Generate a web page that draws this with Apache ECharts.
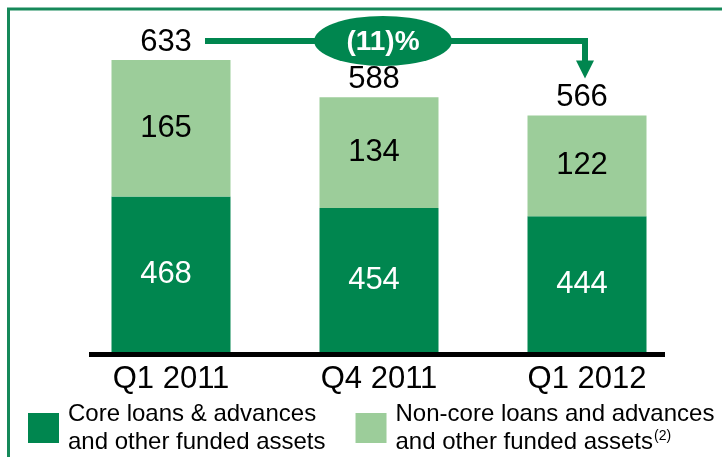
<!DOCTYPE html>
<html>
<head>
<meta charset="utf-8">
<script src="https://cdn.jsdelivr.net/npm/echarts@6/dist/echarts.min.js"></script>
<style>
html,body{margin:0;padding:0;background:#fff;}
#chart{width:722px;height:457px;}
</style>
</head>
<body>
<div id="chart"></div>
<script>
const categories = ['Q1 2011', 'Q4 2011', 'Q1 2012'];
const coreValues = [468, 454, 444];
const nonCoreValues = [165, 134, 122];
const coreName = 'Core loans & advances\nand other funded assets';
const nonCoreName = 'Non-core loans and advances\nand other funded assets{sup|(2)}';

const totals = coreValues.map((v, i) => v + nonCoreValues[i]);
const zeros = categories.map(() => 0);

const DARK = '#00864F';
const LIGHT = '#9CCD9A';
const FONT = 'Liberation Sans, Arial, sans-serif';
const AXIS_MIN = 280, AXIS_MAX = 639;

const chart = echarts.init(document.getElementById('chart'), null, {renderer: 'canvas'});

chart.setOption({
  animation: false,
  backgroundColor: '#fff',
  grid: {left: 67, right: 31, top: 55, bottom: 105, containLabel: false},
  xAxis: {
    type: 'category',
    data: categories,
    axisLine: {show: false},
    axisTick: {show: false},
    axisLabel: {fontSize: 31, color: '#000', fontFamily: FONT, margin: 12}
  },
  yAxis: {
    type: 'value', min: AXIS_MIN, max: AXIS_MAX, show: false,
    splitLine: {show: false}
  },
  legend: {
    left: 28, top: 400, padding: 0,
    itemWidth: 31, itemHeight: 30, itemGap: 30,
    icon: 'rect',
    data: ['core', 'noncore'],
    formatter: n => n === 'core' ? coreName : nonCoreName,
    textStyle: {
      fontSize: 24, lineHeight: 28, color: '#000', fontFamily: FONT,
      padding: [0, 0, 0, 4],
      rich: {
        sup: {fontSize: 14, lineHeight: 14, verticalAlign: 'top', color: '#000', fontFamily: FONT, padding: [1, 0, 0, 1]}
      }
    }
  },
  series: [
    {
      name: 'core', type: 'bar', stack: 'a', data: coreValues, barWidth: 119,
      itemStyle: {color: DARK},
      label: {show: true, position: 'inside', color: '#fff', fontSize: 31, fontFamily: FONT, offset: [-5, 0]}
    },
    {
      name: 'noncore', type: 'bar', stack: 'a', data: nonCoreValues, barWidth: 119,
      itemStyle: {color: LIGHT},
      label: {show: true, position: 'inside', color: '#000', fontSize: 31, fontFamily: FONT, offset: [-5, 0]}
    },
    {
      name: 'total', type: 'bar', stack: 'a', data: zeros, barWidth: 119, silent: true,
      itemStyle: {color: 'rgba(0,0,0,0)'},
      label: {
        show: true, position: 'top', distance: 2, color: '#000', fontSize: 31, lineHeight: 31,
        fontFamily: FONT, offset: [-5, 0],
        formatter: p => String(totals[p.dataIndex])
      }
    }
  ]
});

// annotation: change from first to last period
const p0 = chart.convertToPixel({gridIndex: 0}, [0, totals[0]]);
const p1 = chart.convertToPixel({gridIndex: 0}, [1, totals[1]]);
const p2 = chart.convertToPixel({gridIndex: 0}, [2, totals[2]]);
const lineY = p0[1] - 19;
const startX = p0[0] + 34;
const endX = p2[0] - 2;
const tipY = p2[1] - 37;
const headH = 18, headW = 9;
const pct = Math.round((totals[2] - totals[0]) / totals[0] * 100);
const pctText = pct < 0 ? '(' + Math.abs(pct) + ')%' : pct + '%';
const ex = p1[0] + 4;
const baseY = chart.convertToPixel({gridIndex: 0}, [0, AXIS_MIN])[1];

chart.setOption({
  graphic: [
    {type: 'rect', z: 0, shape: {x: 8.5, y: 9, width: 900, height: 900},
     style: {fill: 'none', stroke: '#16895A', lineWidth: 3}},
    {type: 'line', z: 10, shape: {x1: 89, y1: baseY + 2.5, x2: 665, y2: baseY + 2.5},
     style: {stroke: '#000', lineWidth: 5}},
    {type: 'polyline', z: 10, shape: {points: [[startX, lineY], [endX, lineY], [endX, tipY - headH + 1]]},
     style: {stroke: DARK, lineWidth: 6, fill: null, lineJoin: 'miter'}},
    {type: 'polygon', z: 10, shape: {points: [[endX - headW, tipY - headH], [endX + headW, tipY - headH], [endX, tipY]]},
     style: {fill: DARK}},
    {type: 'circle', z: 11, x: ex, y: lineY, scaleY: 25 / 69, shape: {cx: 0, cy: 0, r: 69},
     style: {fill: DARK}},
    {type: 'text', z: 12, x: ex, y: lineY + 1,
     style: {text: pctText, fill: '#fff', font: 'bold 28px ' + FONT, textAlign: 'center', textVerticalAlign: 'middle'}}
  ]
});
</script>
</body>
</html>
